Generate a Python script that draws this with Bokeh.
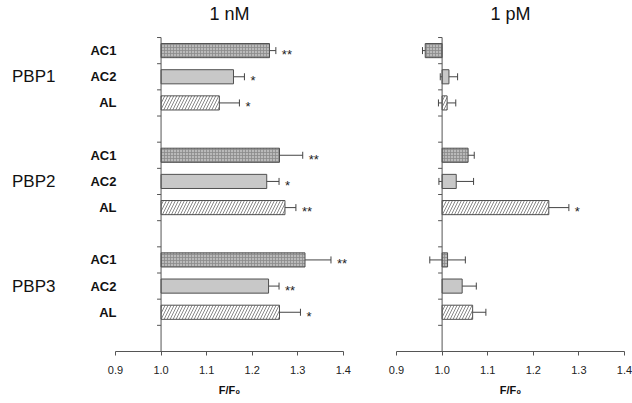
from bokeh.plotting import figure
from bokeh.layouts import row
from bokeh.models import (ColumnDataSource, Range1d, FixedTicker, LinearAxis,
                          Whisker, TeeHead, Label)
from bokeh.core.properties import value
from bokeh.embed import file_html
from bokeh.resources import INLINE

# ---------------- data ----------------
groups = ["PBP1", "PBP2", "PBP3"]
ligands = ["AC1", "AC2", "AL"]
x_ticks = [0.9, 1.0, 1.1, 1.2, 1.3, 1.4]

nM_mean = [1.238, 1.159, 1.128, 1.260, 1.232, 1.272, 1.316, 1.236, 1.260]
nM_err = [0.014, 0.024, 0.044, 0.051, 0.027, 0.024, 0.057, 0.023, 0.046]
nM_sig = ["**", "*", "*", "**", "*", "**", "**", "**", "*"]

pM_mean = [0.963, 1.015, 1.011, 1.057, 1.031, 1.234, 1.012, 1.044, 1.067]
pM_err = [0.006, 0.019, 0.019, 0.0135, 0.038, 0.044, 0.039, 0.031, 0.029]
pM_sig = ["", "", "", "", "", "*", "", "", ""]

# ---------------- styling ----------------
FONT = "Liberation Sans"
AX = "#555555"
OUT = "#505050"
styles = {
    "AC1": dict(fill_color="#bababa", hatch_pattern="cross", hatch_scale=3,
                hatch_color="#8a8a8a", hatch_weight=0.8),
    "AC2": dict(fill_color="#c8c8c8"),
    "AL": dict(fill_color="#ffffff", hatch_pattern="right_diagonal_line",
               hatch_scale=6, hatch_color="#888888", hatch_weight=1),
}

SLOTS = 4 * len(groups)  # 3 bars + 1 gap per group
Y_TOP = -1.415           # frame space above the first slot (title room)
X0, X1 = 0.9, 1.4


def slot_y(gi, li):
    return gi * 4 + li + 0.5


def make_panel(title, means, errs, sigs, width, border_left, border_right,
               x_end, labels):
    p = figure(width=width, height=403, output_backend="svg",
               toolbar_location=None,
               x_range=Range1d(X0, x_end), y_range=Range1d(SLOTS, Y_TOP),
               min_border_left=border_left, min_border_right=border_right,
               min_border_top=0, min_border_bottom=52)
    p.outline_line_color = None
    p.grid.visible = False
    p.background_fill_color = "white"
    p.border_fill_color = "white"

    # bars
    for li, lig in enumerate(ligands):
        ys, rs, los, his, ss = [], [], [], [], []
        for gi in range(len(groups)):
            k = gi * 3 + li
            ys.append(slot_y(gi, li))
            rs.append(means[k])
            los.append(means[k] - errs[k])
            his.append(means[k] + errs[k])
            ss.append(sigs[k])
        src = ColumnDataSource(dict(y=ys, right=rs, lo=los, hi=his, sig=ss))
        p.hbar(y="y", left=1.0, right="right", height=0.54, source=src,
               line_color=OUT, line_width=1, **styles[lig])
        w = Whisker(source=src, base="y", lower="lo", upper="hi",
                    dimension="width", line_color="#444444", line_width=1,
                    upper_head=TeeHead(size=7, line_color="#444444", line_width=1),
                    lower_head=TeeHead(size=7, line_color="#444444", line_width=1))
        p.add_layout(w)
        p.text(x="hi", y="y", text="sig", source=src, x_offset=6, y_offset=4,
               text_align="left", text_baseline="middle",
               text_font=value(FONT), text_font_size="13px",
               text_color="#222222")

    # y axis line at 1.0 with slot ticks
    frame_px = width - border_left - border_right
    tick_len = 4 / frame_px * (x_end - X0)
    p.segment(x0=[1.0], y0=[0], x1=[1.0], y1=[SLOTS], line_color=AX,
              line_width=1)
    ty = list(range(SLOTS))
    p.segment(x0=[1.0] * len(ty), y0=ty, x1=[1.0 - tick_len] * len(ty), y1=ty,
              line_color=AX, line_width=1)

    # x axis
    xa = p.xaxis[0]
    xa.bounds = (X0, X1)
    xa.ticker = FixedTicker(ticks=x_ticks)
    xa.major_label_overrides = {t: f"{t:.1f}" for t in x_ticks}
    xa.axis_line_color = AX
    xa.major_tick_line_color = AX
    xa.major_tick_out = 4
    xa.major_tick_in = 0
    xa.minor_tick_line_color = None
    xa.major_label_text_font = FONT
    xa.major_label_text_font_size = "11px"
    xa.major_label_text_color = "#222222"
    xa.major_label_standoff = 10

    # axis title as a tick label centred on the drawn axis
    mid = (X0 + X1) / 2
    ta = LinearAxis(ticker=FixedTicker(ticks=[mid]),
                    major_label_overrides={mid: "F/F\u2080"})
    ta.axis_line_color = None
    ta.major_tick_line_color = None
    ta.major_tick_out = 0
    ta.minor_tick_line_color = None
    ta.minor_tick_out = 0
    ta.major_label_standoff = 7
    ta.major_label_text_font = FONT
    ta.major_label_text_font_style = "bold"
    ta.major_label_text_font_size = "11px"
    ta.major_label_text_color = "#111111"
    p.add_layout(ta, "below")

    # y axis (ligand labels)
    ya = p.yaxis[0]
    if labels:
        ticks = [slot_y(gi, li) for gi in range(len(groups))
                 for li in range(len(ligands))]
        ya.ticker = FixedTicker(ticks=ticks)
        ya.major_label_overrides = {t: ligands[i % 3] for i, t in enumerate(ticks)}
        ya.axis_line_color = None
        ya.major_tick_line_color = None
        ya.major_tick_out = 0
        ya.minor_tick_line_color = None
        ya.minor_tick_out = 0
        ya.major_label_standoff = -1
        ya.major_label_text_font = FONT
        ya.major_label_text_font_style = "bold"
        ya.major_label_text_font_size = "13px"
        ya.major_label_text_color = "#111111"

        gticks = [slot_y(gi, 1) for gi in range(len(groups))]
        ga = LinearAxis(ticker=FixedTicker(ticks=gticks),
                        major_label_overrides={t: g for t, g in zip(gticks, groups)})
        ga.axis_line_color = None
        ga.major_tick_line_color = None
        ga.major_tick_out = 0
        ga.minor_tick_line_color = None
        ga.minor_tick_out = 0
        ga.major_label_standoff = 32
        ga.major_label_text_font = FONT
        ga.major_label_text_font_size = "17px"
        ga.major_label_text_color = "#111111"
        p.add_layout(ga, "left")
    else:
        ya.visible = False

    p.add_layout(Label(x=mid, y=-0.88, text=title, text_align="center",
                       text_baseline="middle", text_font=FONT,
                       text_font_size="18px", text_color="#111111"))
    return p


p1 = make_panel("1 nM", nM_mean, nM_err, nM_sig, 361, 115, 0, 1.44, True)
p2 = make_panel("1 pM", pM_mean, pM_err, pM_sig, 271, 35, 8, 1.4, False)

layout = row(p1, p2)
open("out.html", "w").write(file_html(layout, INLINE))
